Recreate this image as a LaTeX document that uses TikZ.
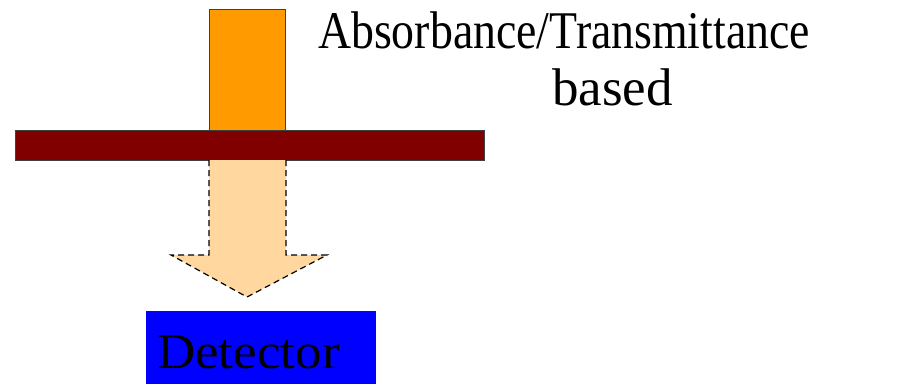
\documentclass[tikz,border=0pt]{standalone}
\usepackage{fontspec}
\setmainfont{Liberation Serif}
\definecolor{beam}{HTML}{FF9B00}
\definecolor{sample}{HTML}{800000}
\definecolor{trans}{HTML}{FFD79F}
\definecolor{det}{HTML}{0000FF}
\tikzset{
  box/.style={draw=black!75, line width=1pt},
  lbl/.style={inner sep=0pt, font=\fontsize{53}{60}\selectfont},
}
\begin{document}
\begin{tikzpicture}[x=1pt,y=-1pt]
\useasboundingbox (0,0) rectangle (911,384);
\draw[box, fill=beam] (209,9) rectangle (285,130);
\draw[box, fill=sample] (15,130) rectangle (484,160);
\draw[fill=trans, dashed, dash pattern=on 6pt off 4pt, line width=1.2pt]
  (209,160) -- (209,255) -- (171,255) -- (247,297) -- (327,255) -- (286,255) -- (286,160);
\fill[trans] (209.6,160.6) rectangle (285.4,256);
\node[fill=det, minimum width=230pt, minimum height=73pt, anchor=north west, inner sep=0pt] (detector) at (146,311) {};
\node[inner sep=0pt, font=\fontsize{50}{58}\selectfont, anchor=base west] (dlabel) at (157,368) {\scalebox{1.06}[1]{Detector}};
\node[lbl, anchor=base west] (title) at (318,48) {\scalebox{0.864}[1]{Absorbance/Transmittance}};
\node[lbl, anchor=base west] (based) at (552,105) {based};
\end{tikzpicture}
\end{document}
